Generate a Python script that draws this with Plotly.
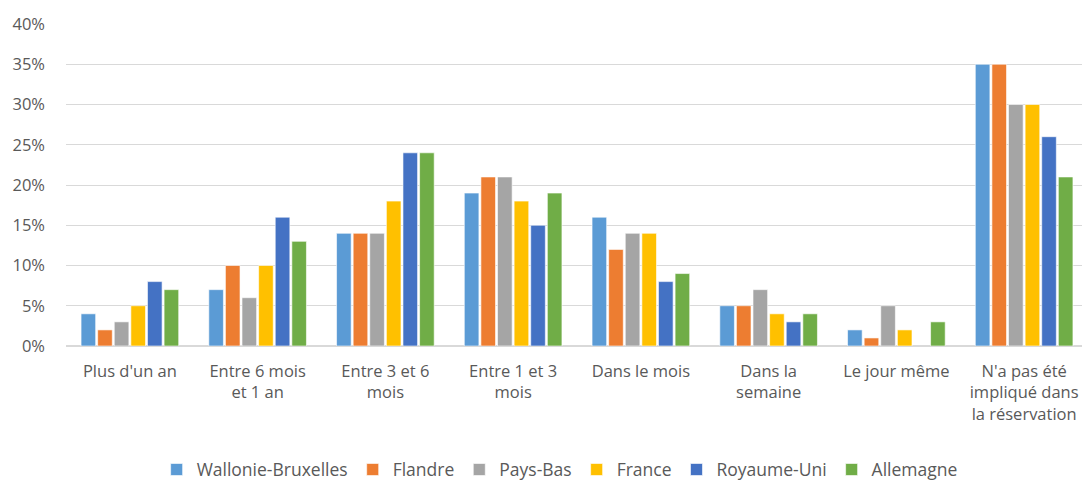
import plotly.graph_objects as go

categories = ["Plus d'un an", "Entre 6 mois<br>et 1 an", "Entre 3 et 6<br>mois", "Entre 1 et 3<br>mois",
              "Dans le mois", "Dans la<br>semaine", "Le jour même",
              "N'a pas été<br>impliqué dans<br>la réservation"]
series_names = ["Wallonie-Bruxelles", "Flandre", "Pays-Bas", "France", "Royaume-Uni", "Allemagne"]
wallonie = [4, 7, 14, 19, 16, 5, 2, 35]
flandre = [2, 10, 14, 21, 12, 5, 1, 35]
pays_bas = [3, 6, 14, 21, 14, 7, 5, 30]
france = [5, 10, 18, 18, 14, 4, 2, 30]
royaume_uni = [8, 16, 24, 15, 8, 3, None, 26]
allemagne = [7, 13, 24, 19, 9, 4, 3, 21]
colors = ["#5B9BD5", "#ED7D31", "#A5A5A5", "#FFC000", "#4472C4", "#70AD47"]

all_series = [wallonie, flandre, pays_bas, france, royaume_uni, allemagne]

fig = go.Figure()
for name, vals, col in zip(series_names, all_series, colors):
    fig.add_trace(go.Bar(
        x=categories, y=[v / 100 if v is not None else None for v in vals],
        name=name, marker=dict(color=col, line=dict(color="rgba(255,255,255,0.6)", width=1)),
    ))

# page body has an 8px default margin; figure sized to fill the rest of the 1090x480 window
fig.update_layout(
    width=1082, height=472,
    margin=dict(l=58, r=2, t=16, b=134),
    paper_bgcolor="white", plot_bgcolor="white",
    barmode="group", bargap=0.22, bargroupgap=0.12,
    font=dict(family="Open Sans, Liberation Sans, sans-serif", size=16.5, color="#595959"),
    legend=dict(orientation="h", x=0.483, xanchor="center", xref="paper",
                y=0.022, yanchor="middle", yref="container",
                font=dict(size=17.5, color="#595959"), itemwidth=30, traceorder="normal"),
    showlegend=True,
)
fig.update_yaxes(range=[0, 0.4], dtick=0.05, tickformat=".0%", showgrid=True,
                 gridcolor="#D9D9D9", gridwidth=1, zeroline=True, zerolinecolor="#D9D9D9",
                 ticklabelstandoff=20, automargin=False, tickfont=dict(size=16.5, color="#595959"))
fig.update_xaxes(showline=True, linecolor="#D9D9D9", tickfont=dict(size=16.5, color="#595959"),
                 ticklabelstandoff=10, automargin=False)

fig.write_html("out.html")
